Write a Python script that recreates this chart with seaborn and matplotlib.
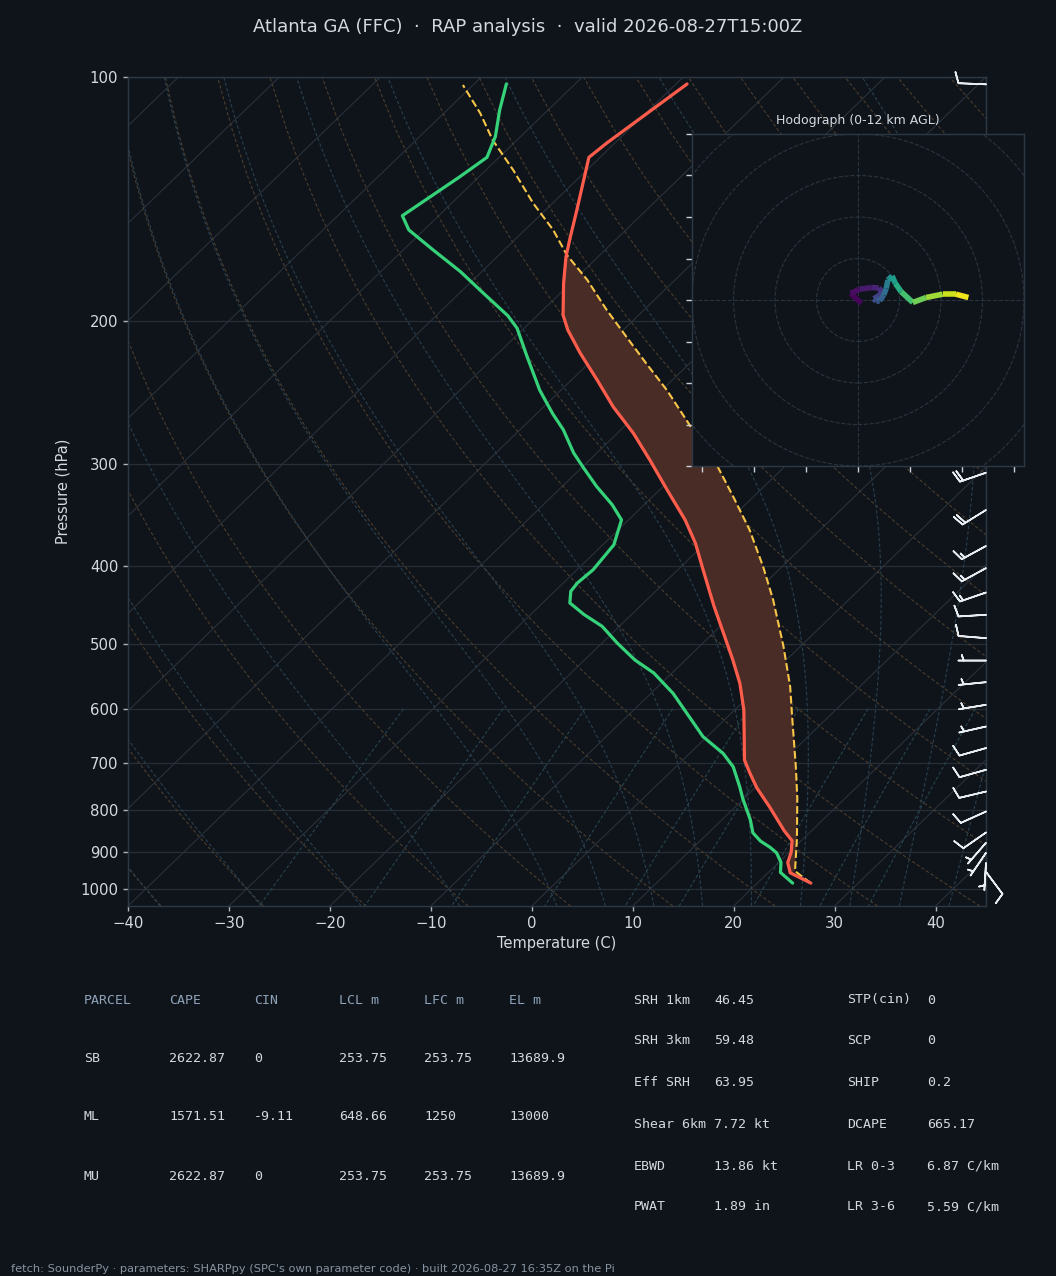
import numpy as np
import pandas as pd
import matplotlib
matplotlib.use('Agg')
import matplotlib.pyplot as plt
import seaborn as sns
from matplotlib.collections import LineCollection
from matplotlib.patches import Circle

# ---- sounding values ----
TEMP_P = [984, 955.6, 928.2, 902.0, 872.6, 848.3, 794.1, 751.3, 720.5, 693.9, 602.0,
          558.5, 522.6, 484.1, 448.5, 404.6, 375.1, 351.2, 322.3, 296.5, 274.7, 254.9,
          236.0, 218.8, 204.9, 196.4, 179.5, 166.4, 157.3, 145.8, 133.9, 125.6, 120.6, 102.0]
TEMP_C = [25.3, 22.2, 20.9, 20.2, 19.1, 17.3, 13.5, 10.2, 8.0, 6.1, 0.9,
          -2.2, -5.3, -9.0, -12.7, -17.5, -21.0, -24.4, -29.3, -34.0, -38.4, -43.1,
          -47.5, -51.9, -55.5, -57.5, -60.7, -63.2, -64.8, -66.9, -69.3, -71.1, -70.8, -68.9]

DEW_P = [984, 954.7, 927.4, 903.0, 889.1, 873.4, 853.1, 822.0, 774.4, 749.1, 707.7,
         681.0, 649.5, 607.8, 574.5, 542.2, 522.6, 498.0, 475.0, 459.4, 444.5, 430.1,
         420.0, 404.6, 377.0, 351.2, 336.3, 319.4, 303.0, 290.5, 272.0, 259.9, 243.1,
         221.0, 203.9, 196.8, 184.7, 173.7, 163.4, 154.3, 148.2, 132.7, 125.6, 118.4,
         109.8, 102.0]
DEW_C = [23.5, 21.2, 20.2, 18.8, 17.6, 16.0, 14.4, 12.8, 9.9, 8.4, 5.7,
         3.3, -0.4, -4.4, -7.8, -11.8, -15.0, -18.5, -21.7, -24.7, -27.3, -28.4,
         -28.6, -28.4, -28.9, -30.7, -33.2, -36.6, -39.8, -42.3, -45.7, -48.4, -52.1,
         -56.8, -60.7, -62.9, -67.6, -72.1, -77.0, -81.5, -83.6, -81.9, -81.2, -82.5,
         -84.8, -86.8]

PARCEL_P = [984, 951.1, 868.3, 774.4, 707.7, 620.4, 563.5, 502.6, 440.4, 400.8, 361.2,
            328.9, 301.6, 268.7, 243.1, 225.3, 208.9, 193.6, 177.8, 165.6, 154.3, 143.1,
            130.2, 119.6, 110.8, 102.3]
PARCEL_C = [25.3, 22.5, 19.4, 15.3, 11.9, 6.8, 3.1, -1.7, -7.5, -11.9, -17.0,
            -22.0, -26.7, -33.6, -39.5, -44.3, -49.0, -53.7, -58.7, -63.3, -67.2, -71.9,
            -77.3, -82.4, -86.4, -91.0]
LFC_P, EL_P = 956, 165

BARB_P = [102.1, 307.2, 341.5, 378.2, 402.7, 431.5, 459.7, 491.2, 523.4, 556.5, 593.4,
          631.1, 670.9, 713.5, 758.9, 803.2, 852.4, 877.6, 903.0, 929.0, 953.0]
BARB_U = [10.0, 18.9, 17.0, 13.2, 13.2, 14.2, 10.0, 10.0, 5.0, 5.0, 4.9,
          4.9, 9.6, 9.6, 9.7, 9.1, 8.2, 3.3, 2.8, 0.3, -5.9]
BARB_V = [-0.4, 6.5, 10.5, 7.2, 7.2, 4.9, 0.6, -0.8, 0.0, 0.5, 0.8,
          1.1, 2.7, 2.7, 2.3, 4.1, 5.7, 3.8, 4.1, 5.0, 7.9]

HODO_U = [0.8, -1.8, 0.4, 3.2, 5.0, 5.8, 5.0, 3.8, 4.4, 5.2, 6.2, 6.8, 7.2, 8.2,
          9.0, 10.4, 13.2, 16.4, 20.4, 23.6, 26.6]
HODO_V = [-0.8, 1.6, 2.6, 3.0, 2.9, 2.0, 1.0, 0.3, -0.3, -0.2, 1.2, 2.8, 4.8, 5.8,
          4.0, 2.0, -0.6, 0.6, 1.4, 1.4, 0.6]
HODO_Z = [0, 0.3, 0.6, 1.0, 1.4, 1.8, 2.2, 2.6, 3.0, 3.4, 3.9, 4.6, 5.4, 6.4,
          7.0, 7.8, 9.0, 9.8, 10.8, 11.4, 12.0]

P_TICKS = [100, 200, 300, 400, 500, 600, 700, 800, 900, 1000]
T_TICKS = [-40, -30, -20, -10, 0, 10, 20, 30, 40]

PARCEL_HEAD = ['PARCEL', 'CAPE', 'CIN', 'LCL m', 'LFC m', 'EL m']
PARCEL_ROWS = [['SB', '2622.87', '0', '253.75', '253.75', '13689.9'],
               ['ML', '1571.51', '-9.11', '648.66', '1250', '13000'],
               ['MU', '2622.87', '0', '253.75', '253.75', '13689.9']]
KIN_NAMES = ['SRH 1km', 'SRH 3km', 'Eff SRH', 'Shear 6km', 'EBWD', 'PWAT']
KIN_VALUES = ['46.45', '59.48', '63.95', '7.72 kt', '13.86 kt', '1.89 in']
THERMO_NAMES = ['STP(cin)', 'SCP', 'SHIP', 'DCAPE', 'LR 0-3', 'LR 3-6']
THERMO_VALUES = ['0', '0', '0.2', '665.17', '6.87 C/km', '5.59 C/km']

TITLE = 'Atlanta GA (FFC)  \u00b7  RAP analysis  \u00b7  valid 2026-08-27T15:00Z'
FOOTER = ("fetch: SounderPy \u00b7 parameters: SHARPpy (SPC's own parameter code) "
          "\u00b7 built 2026-08-27 16:35Z on the Pi")

# ---- colours ----
BG = '#0f141a'
EDGE = '#2d3845'
TXT = '#d3d9e0'
HEAD = '#8ea2b8'
RED = '#ff5d4c'
GREEN = '#35d27a'
PARCEL = '#f7c548'
CAPE_FILL = '#4a2c26'

P_BOT, P_TOP = 1050.0, 100.0
T_MIN, T_MAX = -40, 45
SKEW = (T_MAX - T_MIN) / np.log10(P_BOT / P_TOP)


def skew(t, p):
    return np.asarray(t, float) + SKEW * np.log10(P_BOT / np.asarray(p, float))


def moist_lapse(t0, p_end, n=900):
    # pseudo-adiabat integrated from 1000 hPa
    p = np.linspace(1000.0, p_end, n)
    t = np.array(t0, float) + 273.15
    out = [t.copy()]
    for i in range(1, n):
        dp = p[i] - p[i - 1]
        def f(tt, pp):
            es = 6.112 * np.exp(17.67 * (tt - 273.15) / (tt - 29.65))
            rs = 0.622 * es / (pp - es)
            return (287.04 * tt + 2.501e6 * rs) / (1005.7 + 2.501e6 ** 2 * rs * 0.622 / (287.04 * tt ** 2)) / pp
        k1 = f(t, p[i - 1])
        k2 = f(t + k1 * dp, p[i])
        t = t + 0.5 * (k1 + k2) * dp
        out.append(t.copy())
    return p, np.array(out) - 273.15


sns.set_theme(style='dark', rc={
    'figure.facecolor': BG, 'axes.facecolor': BG, 'axes.edgecolor': EDGE,
    'text.color': TXT, 'axes.labelcolor': TXT, 'xtick.color': TXT, 'ytick.color': TXT,
    'axes.grid': False, 'axes.linewidth': 1.0})
plt.rcParams['font.family'] = ['DejaVu Sans']

W, H = 1056, 1276
fig = plt.figure(figsize=(W / 100, H / 100), dpi=100)
ax = fig.add_axes([128 / W, 1 - 906 / H, 858 / W, 829 / H])
ax.set_yscale('log')
ax.set_ylim(P_BOT, P_TOP)
ax.set_xlim(T_MIN, T_MAX)

# background lines
pp = np.linspace(P_BOT, P_TOP, 60)
for t in range(-130, 50, 10):
    ax.plot(skew([t, t], [P_BOT, P_TOP]), [P_BOT, P_TOP], color='#2a313b', lw=0.8, zorder=1)
for t0 in np.arange(T_MIN, T_MAX + 201, 10):
    th = (t0 + 273.15) * (pp / 1000.0) ** 0.2857 - 273.15
    ax.plot(skew(th, pp), pp, color='#4a3d2d', lw=0.8, ls='--', dashes=(3, 2), zorder=1)
moist_t0 = np.concatenate((np.arange(T_MIN, 0, 10), np.arange(0, T_MAX + 1, 5)))
pu, tu = moist_lapse(moist_t0, P_TOP)
pd_, td_ = moist_lapse(moist_t0, P_BOT, n=60)
for j in range(len(moist_t0)):
    pm = np.concatenate((pd_[::-1], pu[1:]))
    tm = np.concatenate((td_[::-1, j], tu[1:, j]))
    ax.plot(skew(tm, pm), pm, color='#293f4f', lw=0.8, ls='--', dashes=(3, 2), zorder=1)
pw = np.linspace(600, P_BOT, 30)
for w in [0.0004, 0.001, 0.002, 0.004, 0.007, 0.01, 0.016, 0.024, 0.032]:
    e = w * pw / (0.622 + w)
    lg = np.log(e / 6.112)
    tdw = 243.5 * lg / (17.67 - lg)
    ax.plot(skew(tdw, pw), pw, color='#274450', lw=0.8, ls='--', dashes=(3, 2), zorder=1)

ax.set_yticks(P_TICKS)
ax.set_yticklabels([str(p) for p in P_TICKS])
ax.yaxis.set_minor_locator(matplotlib.ticker.NullLocator())
ax.set_xticks(T_TICKS)
ax.yaxis.grid(True, color='#262e38', lw=0.9)
ax.set_axisbelow(True)

# CAPE area between parcel and environment
tp = np.array(TEMP_P); tc = np.array(TEMP_C)
ppar = np.array(PARCEL_P); tpar = np.array(PARCEL_C)
mp = (ppar <= LFC_P) & (ppar >= EL_P)
mt = (tp <= LFC_P) & (tp >= EL_P)
ax.fill(np.concatenate((skew(tpar[mp], ppar[mp]), skew(tc[mt], tp[mt])[::-1])),
        np.concatenate((ppar[mp], tp[mt][::-1])), color=CAPE_FILL, lw=0, zorder=2)

temp_df = pd.DataFrame({'x': skew(TEMP_C, TEMP_P), 'p': TEMP_P})
dew_df = pd.DataFrame({'x': skew(DEW_C, DEW_P), 'p': DEW_P})
par_df = pd.DataFrame({'x': skew(PARCEL_C, PARCEL_P), 'p': PARCEL_P})
sns.lineplot(data=par_df, x='x', y='p', sort=False, estimator=None, color=PARCEL,
             lw=1.5, ls='--', dashes=(3.5, 2), ax=ax, zorder=4)
sns.lineplot(data=dew_df, x='x', y='p', sort=False, estimator=None, color=GREEN,
             lw=2.3, ax=ax, zorder=5)
sns.lineplot(data=temp_df, x='x', y='p', sort=False, estimator=None, color=RED,
             lw=2.3, ax=ax, zorder=5)

ax.barbs(np.ones(len(BARB_P)), BARB_P, BARB_U, BARB_V, transform=ax.get_yaxis_transform(),
         clip_on=False, length=6.3, color='#e8edf2', linewidth=1.2, zorder=6)

ax.set_xlabel('Temperature (C)', fontsize=10.5, labelpad=4)
ax.set_ylabel('Pressure (hPa)', fontsize=10.5, labelpad=7)
ax.tick_params(axis='both', which='major', labelsize=10.7, bottom=True, left=True,
               length=3.5, width=1, color='#aab3bd', pad=3.5)
for s in ax.spines.values():
    s.set_color(EDGE)

# hodograph inset
hx = fig.add_axes([692 / W, 1 - 466 / H, 332 / W, 332 / H])
hx.set_facecolor(BG)
hx.set_xlim(-40, 40)
hx.set_ylim(-40, 40)
for r in range(10, 70, 10):
    hx.add_patch(Circle((0, 0), r, fill=False, ls='--', lw=0.8, color='#2a3441'))
hx.axhline(0, color='#2a3441', lw=0.8, ls='--')
hx.axvline(0, color='#2a3441', lw=0.8, ls='--')
pts = np.column_stack([HODO_U, HODO_V])
segs = np.stack([pts[:-1], pts[1:]], axis=1)
zmid = 0.5 * (np.array(HODO_Z[:-1]) + np.array(HODO_Z[1:]))
lc = LineCollection(segs, cmap='viridis', norm=plt.Normalize(0, 12), lw=4)
lc.set_array(zmid)
hx.add_collection(lc)
hx.set_xticks(np.arange(-37.5, 38, 12.5))
hx.set_yticks(np.arange(-40, 41, 10))
hx.set_xticklabels([])
hx.set_yticklabels([])
hx.tick_params(bottom=True, left=True, length=4, width=1, color='#c8d0d8')
for s in hx.spines.values():
    s.set_color(EDGE)
hx.set_title('Hodograph (0-12 km AGL)', fontsize=9, color=TXT, pad=7)

# title, tables, footer
fig.text(528 / W, 1 - 27 / H, TITLE, ha='center', va='center', fontsize=13, color=TXT)

mono = 'DejaVu Sans Mono'
col_x = [84, 169, 254, 339, 424, 509]
row_y = [1000, 1058, 1117, 1176]
for cx, h in zip(col_x, PARCEL_HEAD):
    fig.text(cx / W, 1 - row_y[0] / H, h, family=mono, fontsize=9.5, color=HEAD, va='center')
for ry, row in zip(row_y[1:], PARCEL_ROWS):
    for cx, v in zip(col_x, row):
        fig.text(cx / W, 1 - ry / H, v, family=mono, fontsize=9.5, color=TXT, va='center')

kin_y = [1000, 1041, 1083, 1124, 1166, 1207]
for ry, a, b, c, d in zip(kin_y, KIN_NAMES, KIN_VALUES, THERMO_NAMES, THERMO_VALUES):
    for cx, v in zip([634, 714, 847, 927], [a, b, c, d]):
        fig.text(cx / W, 1 - ry / H, v, family=mono, fontsize=9.5, color=TXT, va='center')

fig.text(11 / W, 1 - 1269 / H, FOOTER, fontsize=8.2, color='#8793a0', va='center')

fig.savefig('out.png', dpi=100, facecolor=BG)
